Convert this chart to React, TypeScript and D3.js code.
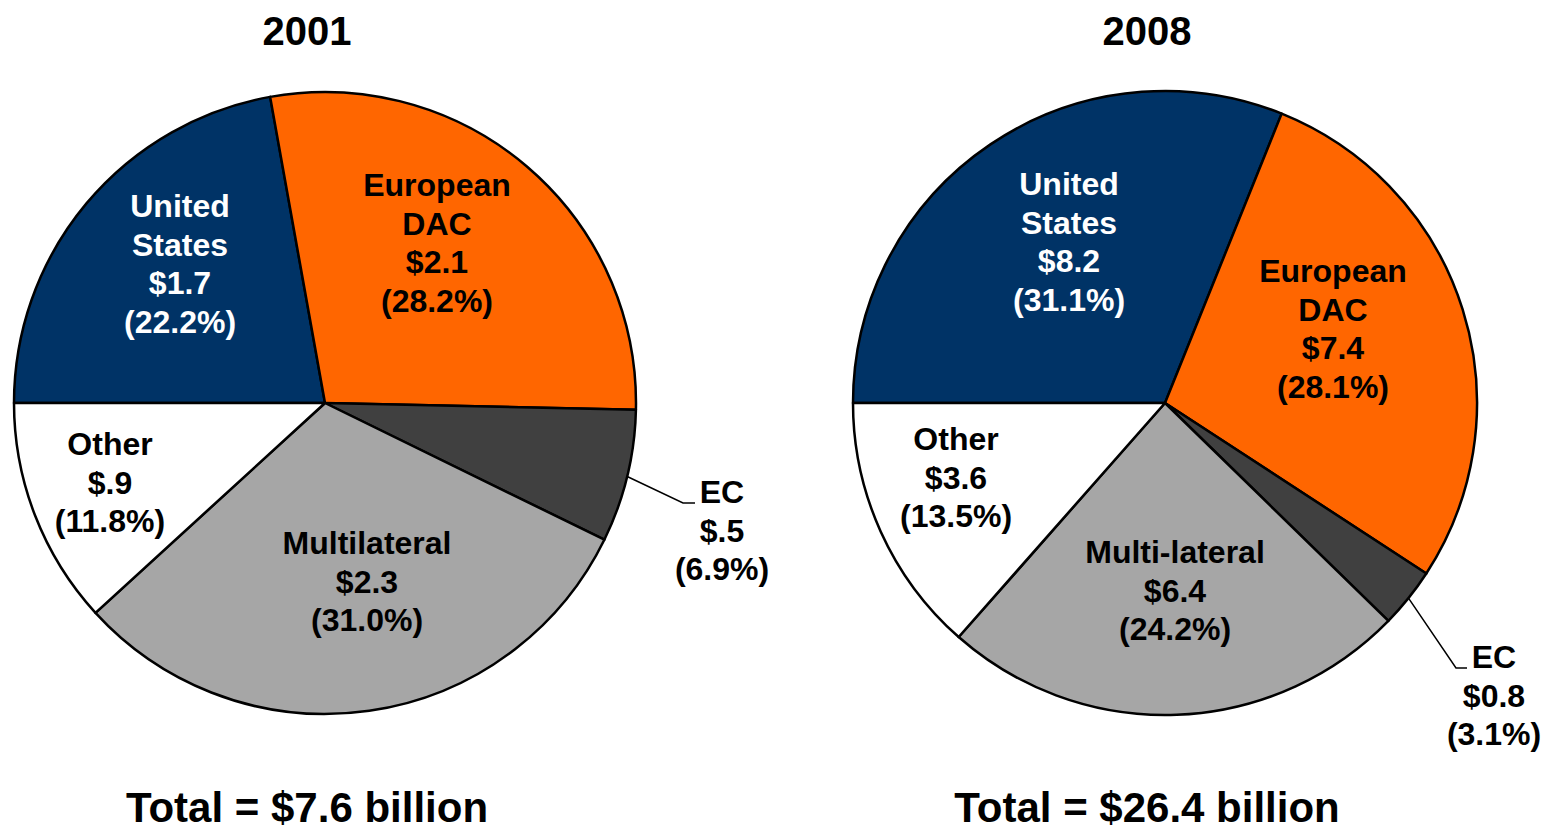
import React from "react";
import * as d3 from "d3";

const categories = ["United States", "European DAC", "EC", "Multilateral", "Other"];
const years = ["2001", "2008"];
const shares2001 = [22.2, 28.2, 6.9, 31.0, 11.8];
const shares2008 = [31.1, 28.1, 3.1, 24.2, 13.5];
const amounts2001 = ["$1.7", "$2.1", "$.5", "$2.3", "$.9"];
const amounts2008 = ["$8.2", "$7.4", "$0.8", "$6.4", "$3.6"];
const names2001 = [["United", "States"], ["European", "DAC"], ["EC"], ["Multilateral"], ["Other"]];
const names2008 = [["United", "States"], ["European", "DAC"], ["EC"], ["Multi-lateral"], ["Other"]];
const totals = ["Total = $7.6 billion", "Total = $26.4 billion"];

const colors = ["#003366", "#FF6600", "#404040", "#A6A6A6", "#FFFFFF"];
const textColors = ["#FFFFFF", "#000000", "#000000", "#000000", "#000000"];

// layout
const pies = [
  {
    cx: 325, cy: 403, r: 311, titleX: 307,
    shares: shares2001, amounts: amounts2001, names: names2001,
    labelPos: [[-145, -186], [112, -207], [397, 100], [42, 151], [-215, 52]],
    leader: { bend: [358, 100], end: [370, 100] },
  },
  {
    cx: 1165, cy: 403, r: 312, titleX: 1147,
    shares: shares2008, amounts: amounts2008, names: names2008,
    labelPos: [[-96, -208], [168, -121], [329, 265], [10, 160], [-209, 47]],
    leader: { bend: [291, 265], end: [302, 265] },
  },
];

const FONT = "Arial, 'Liberation Sans', Helvetica, sans-serif";
const LINE = 38.5;

export default function App() {
  return (
    <svg width={1544} height={830} style={{ position: "absolute", left: 0, top: 0, background: "#fff" }}>
      {pies.map((p, pi) => {
        const pie = d3
          .pie<number>()
          .sort(null)
          .value((d) => d)
          .startAngle(-Math.PI / 2)
          .endAngle((3 * Math.PI) / 2);
        const arcs = pie(p.shares);
        const arc = d3.arc<d3.PieArcDatum<number>>().innerRadius(0).outerRadius(p.r);
        const ecArc = arcs[2];
        const mid = (ecArc.startAngle + ecArc.endAngle) / 2;
        const sx = p.r * Math.sin(mid);
        const sy = -p.r * Math.cos(mid);
        return (
          <g key={pi}>
            <text x={p.titleX} y={45} textAnchor="middle" fontFamily={FONT} fontWeight="bold" fontSize={40} fill="#000">
              {years[pi]}
            </text>
            <g transform={`translate(${p.cx},${p.cy})`}>
              {arcs.map((a, i) => (
                <path key={categories[i]} d={arc(a) || ""} fill={colors[i]} stroke="#000" strokeWidth={2.5} strokeLinejoin="round" />
              ))}
              <polyline
                points={`${sx},${sy} ${p.leader.bend[0]},${p.leader.bend[1]} ${p.leader.end[0]},${p.leader.end[1]}`}
                fill="none"
                stroke="#000"
                strokeWidth={1.5}
              />
              {arcs.map((a, i) => {
                const lines = [...p.names[i], p.amounts[i], `(${p.shares[i].toFixed(1)}%)`];
                const [lx, ly] = p.labelPos[i];
                return (
                  <text key={"l" + i} textAnchor="middle" fontFamily={FONT} fontWeight="bold" fontSize={32} fill={textColors[i]}>
                    {lines.map((t, k) => (
                      <tspan key={k} x={lx} y={ly + k * LINE}>
                        {t}
                      </tspan>
                    ))}
                  </text>
                );
              })}
            </g>
            <text x={p.titleX} y={822} textAnchor="middle" fontFamily={FONT} fontWeight="bold" fontSize={42} fill="#000">
              {totals[pi]}
            </text>
          </g>
        );
      })}
    </svg>
  );
}
